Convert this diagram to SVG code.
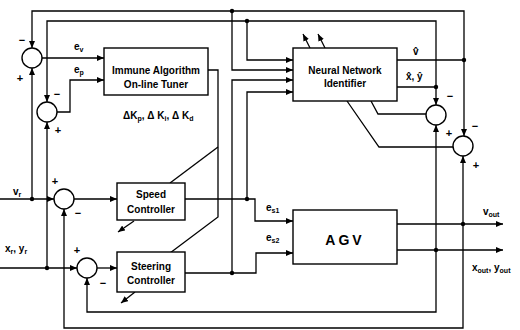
<svg xmlns="http://www.w3.org/2000/svg" width="520" height="330" viewBox="0 0 520 330">
<style>
.b{fill:#fff;stroke:#000;stroke-width:1.4}
.s{fill:#fff;stroke:#000;stroke-width:1.4}
.w{fill:none;stroke:#000;stroke-width:1.3}
.t{font-family:"Liberation Sans",Arial,sans-serif;font-size:10px;font-weight:bold;fill:#000}
.c{text-anchor:middle}
.sub{font-size:7px}
.sg{font-family:"Liberation Sans",Arial,sans-serif;font-size:11px;font-weight:bold;fill:#000;text-anchor:middle}
</style>
<defs>
<marker id="a" markerWidth="7" markerHeight="6" refX="7" refY="3" orient="auto" markerUnits="userSpaceOnUse">
<path d="M0,0 L7,3 L0,6 Z" fill="#000"/>
</marker>
</defs>
<rect width="520" height="330" fill="#fff"/>
<g id="connectors">
<path class="w" d="M232,11 L32,11 L32,48" marker-end="url(#a)"/>
<path class="w" d="M232,11 L464,11 L464,136" marker-end="url(#a)"/>
<path class="w" d="M232,11 L232,70 L293,70" marker-end="url(#a)"/>
<path class="w" d="M247,21 L47,21 L47,102" marker-end="url(#a)"/>
<path class="w" d="M247,21 L436,21 L436,105" marker-end="url(#a)"/>
<path class="w" d="M247,21 L247,60 L293,60" marker-end="url(#a)"/>
<path class="w" d="M0,199 L54,199" marker-end="url(#a)"/>
<path class="w" d="M32,199 L32,68" marker-end="url(#a)"/>
<path class="w" d="M0,268 L77,268" marker-end="url(#a)"/>
<path class="w" d="M47,268 L47,122" marker-end="url(#a)"/>
<path class="w" d="M42,58 L104,58" marker-end="url(#a)"/>
<path class="w" d="M57,112 L70,112 L70,80 L104,80" marker-end="url(#a)"/>
<path class="w" d="M208,70 L218,70 L218,217 L170,253"/>
<path class="w" d="M218,147 L170,183"/>
<path class="w" d="M134,221 L118,232" marker-end="url(#a)"/>
<path class="w" d="M135,292 L121,303" marker-end="url(#a)"/>
<path class="w" d="M74,199 L117,199" marker-end="url(#a)"/>
<path class="w" d="M97,268 L117,268" marker-end="url(#a)"/>
<path class="w" d="M185,199 L255,199 L255,221 L293,221" marker-end="url(#a)"/>
<path class="w" d="M247,199 L247,92 L293,92" marker-end="url(#a)"/>
<path class="w" d="M185,273 L256,273 L256,253 L293,253" marker-end="url(#a)"/>
<path class="w" d="M232,273 L232,80 L293,80" marker-end="url(#a)"/>
<path class="w" d="M397,224 L503,224" marker-end="url(#a)"/>
<path class="w" d="M397,250 L503,250" marker-end="url(#a)"/>
<path class="w" d="M463,224 L463,328 L64,328 L64,209" marker-end="url(#a)"/>
<path class="w" d="M463,224 L463,156" marker-end="url(#a)"/>
<path class="w" d="M436,250 L436,312 L87,312 L87,278" marker-end="url(#a)"/>
<path class="w" d="M436,250 L436,125" marker-end="url(#a)"/>
<path class="w" d="M397,60 L464,60"/>
<path class="w" d="M397,87 L436,87"/>
<path class="w" d="M426,114 L378,114 L371,101"/>
<path class="w" d="M453,147 L379,147 L347,101"/>
<path class="w" d="M310,48 L303,34" marker-end="url(#a)"/>
<path class="w" d="M325,48 L318,34" marker-end="url(#a)"/>
<g fill="#000">
<circle cx="232" cy="11" r="2.2"/>
<circle cx="247" cy="21" r="2.2"/>
<circle cx="32" cy="199" r="2.2"/>
<circle cx="47" cy="268" r="2.2"/>
<circle cx="247" cy="199" r="2.2"/>
<circle cx="232" cy="273" r="2.2"/>
<circle cx="463" cy="224" r="2.2"/>
<circle cx="436" cy="250" r="2.2"/>
<circle cx="464" cy="60" r="2.2"/>
<circle cx="436" cy="87" r="2.2"/>
</g>
</g>
<g id="sum1"><circle class="s" cx="32" cy="58" r="10"/><text class="sg" x="22" y="44">−</text><text class="sg" x="20" y="82">+</text></g>
<g id="sum2"><circle class="s" cx="47" cy="112" r="10"/><text class="sg" x="57" y="98">−</text><text class="sg" x="58" y="134">+</text></g>
<g id="sum3"><circle class="s" cx="64" cy="199" r="10"/><text class="sg" x="55" y="185">+</text><text class="sg" x="78" y="217">−</text></g>
<g id="sum4"><circle class="s" cx="87" cy="268" r="10"/><text class="sg" x="77" y="254">+</text><text class="sg" x="103" y="287">−</text></g>
<g id="sum5"><circle class="s" cx="436" cy="115" r="10"/><text class="sg" x="450" y="100">−</text><text class="sg" x="449" y="137">+</text></g>
<g id="sum6"><circle class="s" cx="463" cy="146" r="10"/><text class="sg" x="475" y="130">−</text><text class="sg" x="476" y="169">+</text></g>
<g id="immune">
<rect class="b" x="104" y="48" width="104" height="47"/>
<text class="t c" x="156" y="74">Immune Algorithm</text>
<text class="t c" x="156" y="88">On-line Tuner</text>
</g>
<g id="nn">
<rect class="b" x="293" y="48" width="104" height="53"/>
<text class="t c" x="345" y="74">Neural Network</text>
<text class="t c" x="345" y="87">Identifier</text>
</g>
<g id="speed">
<rect class="b" x="117" y="183" width="68" height="37"/>
<text class="t c" x="151" y="198">Speed</text>
<text class="t c" x="151" y="213">Controller</text>
</g>
<g id="steering">
<rect class="b" x="117" y="252" width="68" height="40"/>
<text class="t c" x="151" y="270">Steering</text>
<text class="t c" x="151" y="284">Controller</text>
</g>
<g id="agv">
<rect class="b" x="293" y="210" width="104" height="54"/>
<text class="t c" x="345" y="245" style="font-size:14px;letter-spacing:3px">AGV</text>
</g>
<g id="labels">
<text class="t" x="74" y="50">e<tspan class="sub" dy="2">v</tspan></text>
<text class="t" x="74" y="73">e<tspan class="sub" dy="2">p</tspan></text>
<text class="t" x="123" y="119">ΔK<tspan class="sub" dy="2">p</tspan><tspan dy="-2">, Δ K</tspan><tspan class="sub" dy="2">i</tspan><tspan dy="-2">, Δ K</tspan><tspan class="sub" dy="2">d</tspan></text>
<text class="t" x="13" y="195">v<tspan class="sub" dy="2">r</tspan></text>
<text class="t" x="5" y="252">x<tspan class="sub" dy="2">r</tspan><tspan dy="-2">, y</tspan><tspan class="sub" dy="2">r</tspan></text>
<text class="t" x="266" y="211">e<tspan class="sub" dy="2">s1</tspan></text>
<text class="t" x="266" y="241">e<tspan class="sub" dy="2">s2</tspan></text>
<text class="t" x="483" y="215">v<tspan class="sub" dy="2">out</tspan></text>
<text class="t" x="472" y="271">x<tspan class="sub" dy="2">out</tspan><tspan dy="-2">, y</tspan><tspan class="sub" dy="2">out</tspan></text>
<text class="t" x="413" y="55">v̂</text>
<text class="t" x="406" y="80">x̂, ŷ</text>
</g>
</svg>
